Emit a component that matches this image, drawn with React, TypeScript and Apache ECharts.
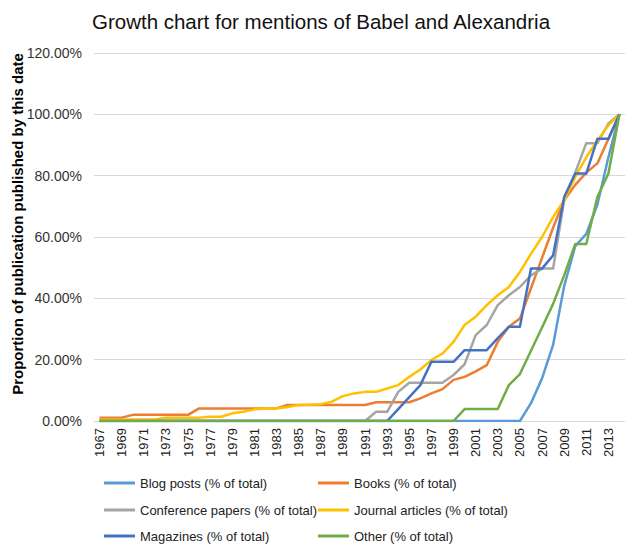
import React, { useEffect, useRef } from 'react';
import * as echarts from 'echarts';

const years = [
  '1967', '1968', '1969', '1970', '1971', '1972', '1973', '1974', '1975', '1976',
  '1977', '1978', '1979', '1980', '1981', '1982', '1983', '1984', '1985', '1986',
  '1987', '1988', '1989', '1990', '1991', '1992', '1993', '1994', '1995', '1996',
  '1997', '1998', '1999', '2000', '2001', '2002', '2003', '2004', '2005', '2006',
  '2007', '2008', '2009', '2010', '2011', '2012', '2013', '2014',
];

const blogPosts = [
  0, 0, 0, 0, 0, 0, 0, 0, 0, 0,
  0, 0, 0, 0, 0, 0, 0, 0, 0, 0,
  0, 0, 0, 0, 0, 0, 0, 0, 0, 0,
  0, 0, 0, 0, 0, 0, 0, 0, 0, 5.8,
  13.9, 24.8, 44, 57, 61, 70.5, 86, 100,
];

const books = [
  1.1, 1.1, 1.1, 2.0, 2.0, 2.0, 2.0, 2.0, 2.0, 4.1,
  4.1, 4.1, 4.1, 4.1, 4.1, 4.1, 4.1, 5.2, 5.2, 5.2,
  5.2, 5.2, 5.2, 5.2, 5.2, 6.1, 6.1, 6.1, 6.1, 7.4,
  9.0, 10.4, 13.4, 14.4, 16.2, 18.2, 25.8, 30.7, 33.4, 43.3,
  53.2, 63, 72, 77, 81, 84, 92, 100,
];

const conferencePapers = [
  0, 0, 0, 0, 0, 0, 0, 0, 0, 0,
  0, 0, 0, 0, 0, 0, 0, 0, 0, 0,
  0, 0, 0, 0, 0, 3.0, 3.0, 9.5, 12.5, 12.5,
  12.5, 12.5, 15, 18.5, 28, 31.3, 37.8, 41, 43.7, 47.5,
  49.7, 49.7, 72, 81, 90.6, 90.6, 97, 100,
];

const journalArticles = [
  0.5, 0.5, 0.5, 0.5, 0.5, 0.5, 1.1, 1.1, 1.1, 1.1,
  1.4, 1.4, 2.5, 3.0, 3.8, 4.1, 4.1, 4.6, 5.2, 5.3,
  5.5, 6.3, 8.1, 9.0, 9.5, 9.5, 10.6, 11.7, 14.4, 16.8,
  19.9, 22, 25.8, 31.3, 34, 37.8, 41, 43.7, 48.6, 54.5,
  60, 66.5, 72, 79.6, 86, 91.5, 96.4, 100,
];

const magazines = [
  0, 0, 0, 0, 0, 0, 0, 0, 0, 0,
  0, 0, 0, 0, 0, 0, 0, 0, 0, 0,
  0, 0, 0, 0, 0, 0, 0, 3.9, 7.8, 11.7,
  19.3, 19.3, 19.3, 23.1, 23.1, 23.1, 27, 30.7, 30.7, 49.7,
  49.7, 54, 73, 80.7, 80.7, 92, 92, 100,
];

const other = [
  0, 0, 0, 0, 0, 0, 0, 0, 0, 0,
  0, 0, 0, 0, 0, 0, 0, 0, 0, 0,
  0, 0, 0, 0, 0, 0, 0, 0, 0, 0,
  0, 0, 0, 3.9, 3.9, 3.9, 3.9, 11.7, 15.3, 22.9,
  30.5, 38.2, 47.5, 57.7, 57.7, 73, 80.7, 100,
];

const yTicks = [0, 20, 40, 60, 80, 100, 120];

const seriesNames = [
  'Blog posts (% of total)',
  'Books (% of total)',
  'Conference papers (% of total)',
  'Journal articles (% of total)',
  'Magazines (% of total)',
  'Other (% of total)',
];
const seriesColors = ['#5B9BD5', '#ED7D31', '#A5A5A5', '#FFC000', '#4472C4', '#70AD47'];
const seriesData = [blogPosts, books, conferencePapers, journalArticles, magazines, other];

const titleText = 'Growth chart for mentions of Babel and Alexandria';
const yAxisTitle = 'Proportion of publication published by this date';

export default function App() {
  const ref = useRef<HTMLDivElement>(null);

  useEffect(() => {
    if (!ref.current) return;
    const chart = echarts.init(ref.current, null, { renderer: 'svg' });
    const font = 'Liberation Sans';

    const series = seriesNames.map((name, i) => ({
      name,
      type: 'line',
      data: seriesData[i],
      symbol: 'none',
      lineStyle: { width: 2.5, color: seriesColors[i], join: 'round' },
      itemStyle: { color: seriesColors[i] },
      emphasis: { disabled: true },
    }));

    const legendLefts = [104, 318];
    const legendRowCenters = [483, 510, 536];
    const legends = seriesNames.map((name, i) => ({
      orient: 'horizontal',
      left: legendLefts[i % 2],
      top: legendRowCenters[Math.floor(i / 2)] - 8,
      padding: 0,
      itemWidth: 31,
      itemHeight: 3,
      icon: 'rect',
      selectedMode: false,
      data: [name],
      textStyle: { fontFamily: font, fontSize: 13, color: '#222', lineHeight: 16 },
    }));

    chart.setOption({
      animation: false,
      graphic: [
        {
          type: 'text',
          x: 321,
          y: 21,
          style: {
            text: titleText,
            fontFamily: font,
            fontSize: 20.5,
            fill: '#111',
            textAlign: 'center',
            textVerticalAlign: 'middle',
          },
        },
        {
          type: 'text',
          x: 17,
          y: 224,
          rotation: Math.PI / 2,
          style: {
            text: yAxisTitle,
            fontFamily: font,
            fontSize: 15,
            fontWeight: 'bold',
            fill: '#000',
            textAlign: 'center',
            textVerticalAlign: 'middle',
          },
        },
      ],
      grid: { left: 94, right: 0, top: 53, height: 368, containLabel: false },
      xAxis: {
        type: 'category',
        data: years,
        boundaryGap: true,
        axisLine: { lineStyle: { color: '#d9d9d9', width: 1 } },
        axisTick: { show: false },
        axisLabel: {
          interval: 1,
          rotate: 90,
          fontFamily: font,
          fontSize: 13,
          color: '#222',
          margin: 7,
        },
      },
      yAxis: {
        type: 'value',
        min: yTicks[0],
        max: yTicks[yTicks.length - 1],
        interval: 20,
        axisLine: { show: false },
        axisTick: { show: false },
        axisLabel: {
          formatter: (v: number) => v.toFixed(2) + '%',
          fontFamily: font,
          fontSize: 14,
          color: '#333',
          margin: 12,
        },
        splitLine: { lineStyle: { color: '#d9d9d9', width: 1 } },
      },
      legend: legends,
      series,
    });

    return () => chart.dispose();
  }, []);

  return (
    <div
      ref={ref}
      style={{ position: 'fixed', left: 0, top: 0, width: 625, height: 545, background: '#fff' }}
    />
  );
}
